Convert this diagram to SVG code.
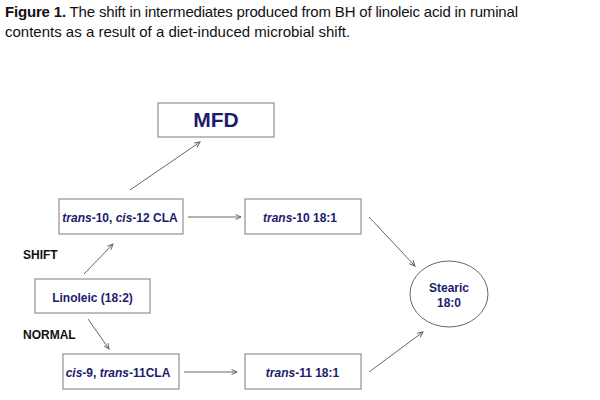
<svg xmlns="http://www.w3.org/2000/svg" width="600" height="400" viewBox="0 0 600 400">
<style>
.title{font-family:"Liberation Sans",Arial,sans-serif;font-size:15px;fill:#111}
.box{fill:#fff;stroke:#7a7a7a;stroke-width:1}
.lbl{font-family:"Liberation Sans",Arial,sans-serif;font-size:12px;font-weight:bold;fill:#1c1c6e;text-anchor:middle}
.big{font-size:21px}
.side{font-family:"Liberation Sans",Arial,sans-serif;font-size:12px;font-weight:bold;fill:#111}
.conn line{stroke:#666;stroke-width:1;marker-end:url(#ah)}
</style>
<defs>
<marker id="ah" markerUnits="userSpaceOnUse" markerWidth="8" markerHeight="8" refX="6" refY="3" orient="auto">
<path d="M0.5,0.5 L6,3 L0.5,5.5" fill="none" stroke="#666" stroke-width="1"/>
</marker>
</defs>
<rect width="600" height="400" fill="#fff"/>
<text class="title" x="5" y="17" textLength="513" lengthAdjust="spacing"><tspan font-weight="bold">Figure 1.</tspan> The shift in intermediates produced from BH of linoleic acid in ruminal</text>
<text class="title" x="5" y="37">contents as a result of a diet-induced microbial shift.</text>

<g id="mfd">
<rect class="box" x="158" y="103" width="116" height="34"/>
<text class="lbl big" x="216" y="127">MFD</text>
</g>
<g id="t10c12">
<rect class="box" x="59" y="199" width="124" height="35"/>
<text class="lbl" x="120" y="222"><tspan font-style="italic">trans</tspan>-10, <tspan font-style="italic">cis</tspan>-12 CLA</text>
</g>
<g id="t10">
<rect class="box" x="245" y="199" width="116" height="35"/>
<text class="lbl" x="300" y="222"><tspan font-style="italic">trans</tspan>-10 18:1</text>
</g>
<g id="linoleic">
<rect class="box" x="35" y="279" width="115" height="34"/>
<text class="lbl" x="92.5" y="302">Linoleic (18:2)</text>
</g>
<g id="c9t11">
<rect class="box" x="63" y="354" width="116" height="35"/>
<text class="lbl" x="118" y="377"><tspan font-style="italic">cis</tspan>-9, <tspan font-style="italic">trans</tspan>-11CLA</text>
</g>
<g id="t11">
<rect class="box" x="245" y="354" width="116" height="35"/>
<text class="lbl" x="302.5" y="377"><tspan font-style="italic">trans</tspan>-11 18:1</text>
</g>
<g id="stearic">
<ellipse cx="449" cy="294" rx="39" ry="33" fill="#fff" stroke="#666" stroke-width="1"/>
<text class="lbl" x="449" y="292">Stearic</text>
<text class="lbl" x="449" y="307">18:0</text>
</g>
<text class="side" x="23" y="259">SHIFT</text>
<text class="side" x="23" y="339">NORMAL</text>

<g class="conn">
<line x1="130" y1="190" x2="200" y2="142"/>
<line x1="188" y1="217" x2="241" y2="217"/>
<line x1="369" y1="217" x2="415" y2="266"/>
<line x1="84" y1="274" x2="113" y2="244"/>
<line x1="88" y1="319" x2="109" y2="349"/>
<line x1="184" y1="372" x2="237" y2="372"/>
<line x1="369" y1="372" x2="423" y2="332"/>
</g>
</svg>
